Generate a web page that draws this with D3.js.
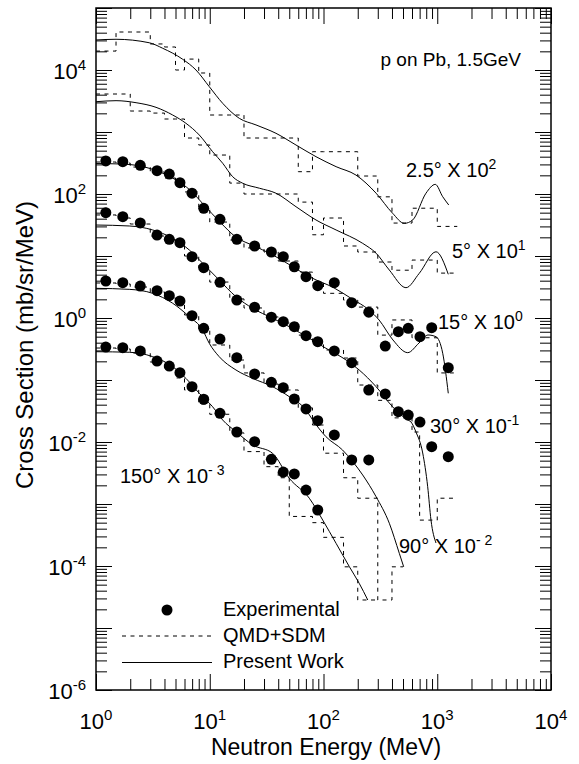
<!DOCTYPE html>
<html>
<head>
<meta charset="utf-8">
<script src="https://cdnjs.cloudflare.com/ajax/libs/d3/7.8.5/d3.min.js"></script>
<style>
body{margin:0;background:#fff}
text{font-family:"Liberation Sans",Arial,sans-serif;fill:#000}
</style>
</head>
<body>
<div id="chart"></div>
<script>
// experimental energies (MeV), shared by all angles
var energies = [1.22, 1.72, 2.45, 3.44, 4.41, 5.47, 6.98, 8.85, 12.3, 17.3, 24.8, 34.8, 44.3, 55.4, 70.2, 89.0, 124.5, 177, 250, 349, 455, 556, 705, 894, 1250]
var exp15 = [341, 332, 290, 238, 210, 152, 103, 58.7, 39.1, 18.6, 14.5, 11.6, 9.75, 6.71, 4.63, 3.32, 3.71, 1.77, 1.24, 0.353, 0.601, 0.682, 0.499, 0.698, 0.158]
var exp30 = [49.9, 43, 34.1, 21.8, 18.6, 16.4, 9.75, 6.48, 3.77, 1.95, 1.49, 1.03, 0.871, 0.724, 0.518, 0.415, 0.294, 0.190, 0.069, 0.0595, 0.0308, 0.0272, 0.021, 0.0084, 0.0058]
var exp90 = [3.95, 3.71, 3.28, 2.76, 2.29, 1.88, 1.09, 0.682, 0.458, 0.229, 0.125, 0.0918, 0.0751, 0.0494, 0.0341, 0.0221, 0.013, 0.00513, 0.00513]
var exp150 = [0.340, 0.332, 0.294, 0.202, 0.168, 0.131, 0.078, 0.0489, 0.029, 0.0145, 0.0101, 0.00526, 0.00328, 0.00305, 0.00168, 0.0008]

// QMD+SDM histograms, bin edges shared
var edges = [1, 1.5, 2, 3, 4, 5, 6, 8, 10, 15, 20, 30, 40, 50, 60, 80, 100, 150, 200, 300, 400, 500, 600, 700, 1000, 1500]
var qmd25 = [20200, 41000, 41000, 26300, 23500, 10000, 15000, 8950, 1880, 1880, 800, 800, 800, 800, 229, 481, 481, 481, 195, 90, 34, 34, 59, 59, 30]
var qmd5 = [4100, 4100, 2180, 2020, 1620, 1620, 800, 617, 425, 150, 100, 100, 100, 100, 74, 22, 41, 14.5, 11.6, 8.0, 5.9, 5.9, 8.6, 8.6, 5.3]
var qmd15 = [328, 315, 272, 226, 181, 145, 108, 61.6, 35.3, 18.1, 13.5, 11.6, 8.3, 8.3, 5.5, 3.8, 2.5, 1.95, 1.5, 0.53, 0.93, 0.93, 0.48, 0.48, 0.13]
var qmd30 = [45.9, 41, 32.8, 21, 18.1, 16.2, 10, 6.4, 3.8, 2.03, 1.45, 1.04, 0.83, 0.83, 0.53, 0.41, 0.305, 0.226, 0.083, 0.047, 0.0245, 0.0245, 0.0145, 0.00055, 0.00124]
var qmd90 = [3.67, 3.53, 3.16, 2.63, 2.1, 1.75, 1.12, 0.64, 0.367, 0.21, 0.13, 0.086, 0.069, 0.069, 0.0355, 0.0188, 0.0066, 0.00265, 0.00124, 2.83e-5, 9.7e-5]
var qmd150 = [0.328, 0.316, 0.272, 0.195, 0.156, 0.108, 0.069, 0.041, 0.028, 0.014, 0.007, 0.004, 0.00265, 0.00063, 0.00063, 0.0005, 0.00029, 9.7e-5, 2.83e-5]

// present work, [energy, value]
var calc25 = [[1,30500],[1.5,31300],[2.94,27500],[3.86,22400],[5.78,14900],[7.57,10000],[9.91,5380],[13,2900],[18.2,1660],[25.5,1300],[38.2,953],[57.3,617],[85.9,400],[129,276],[193,202],[290,103],[405,48.9],[513,33.6],[608,38.1],[796,103],[961,143],[1117,90.4],[1262,66.5]]
var calc5 = [[1,3080],[1.5,3200],[2.25,2970],[3.37,2500],[4.72,1880],[6.18,1380],[8.09,895],[10.6,481],[13,313],[15.9,190],[19.5,149],[27.3,124],[38.2,103],[57.3,62.4],[85.9,38.1],[129,26.3],[221,16],[290,11.1],[379,5.94],[531,3.08],[695,5.26],[975,11.7],[1250,5.07]]
var calc15 = [[1,310],[1.63,305],[2.44,283],[3.65,226],[5.05,168],[6.7,116],[8.9,66.5],[12.3,35.3],[17,20.2],[24.6,14.5],[34.5,10.8],[50.7,7.16],[76.1,4.58],[124,3.05],[178,2.03],[251,1.35],[308,0.929],[408,0.442],[550,0.276],[691,0.395],[829,0.532],[975,0.499],[1117,0.27],[1250,0.061]]
var calc30 = [[1,31.6],[1.96,30.5],[3.15,26.3],[4.72,19.3],[6.61,12.5],[8.67,7.63],[12.1,4.1],[17,2.21],[23.9,1.43],[35.7,0.99],[50,0.724],[75,0.471],[105,0.325],[158,0.21],[206,0.145],[290,0.078],[405,0.037],[550,0.0226],[588,0.021],[650,0.0145],[745,0.00665],[824,0.0019],[881,5.5e-4],[975,2.35e-4]]
var calc90 = [[1,3.01],[1.96,2.9],[3.15,2.5],[4.72,1.73],[6.61,1.05],[8.67,0.64],[9.9,0.391],[12.1,0.238],[17,0.145],[23.9,0.106],[35.7,0.078],[50,0.0538],[70.2,0.0328],[80.4,0.0226],[105,0.0122],[147,0.00743],[181,0.00481],[221,0.00294],[290,0.00131],[379,4.89e-4],[464,1.6e-4],[507,9.7e-5]]
var calc150 = [[1,0.286],[1.96,0.28],[3.15,0.238],[4.72,0.164],[6.18,0.106],[8.09,0.061],[10.6,0.037],[13,0.0226],[17,0.0147],[23.9,0.00895],[35.7,0.00657],[50,0.0026],[75,0.00124],[98.5,5.5e-4],[129,2.32e-4],[169,9.7e-5],[206,5.26e-5],[245,2.83e-5]]

var xExps = [0, 1, 2, 3, 4]
var yExps = [-6, -4, -2, 0, 2, 4]

var width = 579, height = 764
var plotL = 96, plotR = 551, plotT = 8, plotB = 690

var svg = d3.select("#chart").append("svg")
    .attr("width", width)
    .attr("height", height)

var x = d3.scaleLog().domain([1, 1e4]).range([plotL, plotR])
var y = d3.scaleLog().domain([1e-6, 1e5]).range([plotB, plotT])

function decadeTicks(lo, hi, major){
    var out = []
    for(var d = lo; d < hi; d++){
        for(var k = 1; k < 10; k++){
            if((k == 1) == major) out.push(k * Math.pow(10, d))
        }
    }
    if(major) out.push(Math.pow(10, hi))
    return out
}

function ticks(axis, scale, vals, len, tr){
    var g = svg.append("g")
        .attr("transform", tr)
        .call(axis(scale).tickValues(vals).tickSize(-len).tickFormat(""))
    g.select(".domain").remove()
    g.selectAll("line").attr("stroke", "#000").attr("stroke-width", 1)
}
var xMaj = decadeTicks(0, 4, true), xMin = decadeTicks(0, 4, false)
var yMaj = decadeTicks(-6, 5, true), yMin = decadeTicks(-6, 5, false)
ticks(d3.axisBottom, x, xMaj, 16, "translate(0," + plotB + ")")
ticks(d3.axisBottom, x, xMin, 11, "translate(0," + plotB + ")")
ticks(d3.axisTop, x, xMaj, 16, "translate(0," + plotT + ")")
ticks(d3.axisTop, x, xMin, 11, "translate(0," + plotT + ")")
ticks(d3.axisLeft, y, yMaj, 16, "translate(" + plotL + ",0)")
ticks(d3.axisLeft, y, yMin, 11, "translate(" + plotL + ",0)")
ticks(d3.axisRight, y, yMaj, 16, "translate(" + plotR + ",0)")
ticks(d3.axisRight, y, yMin, 11, "translate(" + plotR + ",0)")

svg.append("rect")
    .attr("x", plotL).attr("y", plotT)
    .attr("width", plotR - plotL).attr("height", plotB - plotT)
    .attr("fill", "none").attr("stroke", "#000").attr("stroke-width", 1.5)

// text with superscript
function label(px, py, base, sup, size, anchor){
    var t = svg.append("text")
        .attr("x", px).attr("y", py)
        .attr("font-size", size)
        .attr("text-anchor", anchor)
    t.append("tspan").text(base)
    t.append("tspan").text(sup)
        .attr("font-size", Math.round(size * 0.68))
        .attr("dy", -Math.round(size * 0.4))
    return t
}
xExps.forEach(function(e){
    label(x(Math.pow(10, e)), 729, "10", e, 22, "middle")
})
yExps.forEach(function(e){
    label(86, y(Math.pow(10, e)) + 9, "10", e, 22, "end")
})

svg.append("text")
    .attr("x", 326).attr("y", 755)
    .attr("font-size", 23)
    .attr("text-anchor", "middle")
    .text("Neutron Energy (MeV)")
svg.append("text")
    .attr("transform", "translate(33,345) rotate(-90)")
    .attr("font-size", 24)
    .attr("text-anchor", "middle")
    .text("Cross Section (mb/sr/MeV)")

// histograms
function stepPoints(vals){
    var pts = []
    vals.forEach(function(v, i){
        pts.push([edges[i], v])
        pts.push([edges[i + 1], v])
    })
    return pts
}
var line = d3.line()
    .x(function(d){ return x(d[0]) })
    .y(function(d){ return y(d[1]) })
var smooth = d3.line()
    .x(function(d){ return x(d[0]) })
    .y(function(d){ return y(d[1]) })
    .curve(d3.curveMonotoneX)

var hists = [qmd25, qmd5, qmd15, qmd30, qmd90, qmd150]
hists.forEach(function(h){
    svg.append("path")
        .attr("d", line(stepPoints(h)))
        .attr("fill", "none")
        .attr("stroke", "#000")
        .attr("stroke-width", 1)
        .attr("stroke-dasharray", "4,4.5")
})

var calcs = [calc25, calc5, calc15, calc30, calc90, calc150]
calcs.forEach(function(c){
    svg.append("path")
        .attr("d", smooth(c))
        .attr("fill", "none")
        .attr("stroke", "#000")
        .attr("stroke-width", 1)
})

var exps = [exp15, exp30, exp90, exp150]
exps.forEach(function(s){
    svg.append("g").selectAll("circle")
        .data(s)
        .enter().append("circle")
        .attr("cx", function(d, i){ return x(energies[i]) })
        .attr("cy", function(d){ return y(d) })
        .attr("r", 5.5)
        .style("fill", "black")
})

// annotations
svg.append("text")
    .attr("x", 521).attr("y", 66)
    .attr("font-size", 19)
    .attr("text-anchor", "end")
    .text("p on Pb, 1.5GeV")
label(406, 177, "2.5\u00b0 X 10", "2", 20, "start")
label(452, 258, "5\u00b0 X 10", "1", 20, "start")
label(438, 329, "15\u00b0 X 10", "0", 20, "start")
label(430, 433, "30\u00b0 X 10", "-1", 20, "start")
label(399, 553, "90\u00b0 X 10", "- 2", 20, "start")
label(120, 483, "150\u00b0 X 10", "- 3", 20, "start")

// legend
svg.append("circle").attr("cx", 167).attr("cy", 610).attr("r", 5.5).style("fill", "black")
svg.append("line").attr("x1", 122).attr("x2", 212).attr("y1", 636).attr("y2", 636)
    .attr("stroke", "#000").attr("stroke-dasharray", "4,4.5")
svg.append("line").attr("x1", 122).attr("x2", 212).attr("y1", 662.5).attr("y2", 662.5)
    .attr("stroke", "#000")
var legendText = ["Experimental", "QMD+SDM", "Present Work"]
legendText.forEach(function(t, i){
    svg.append("text")
        .attr("x", 223).attr("y", 616 + i * 26)
        .attr("font-size", 20)
        .text(t)
})
</script>
</body>
</html>
